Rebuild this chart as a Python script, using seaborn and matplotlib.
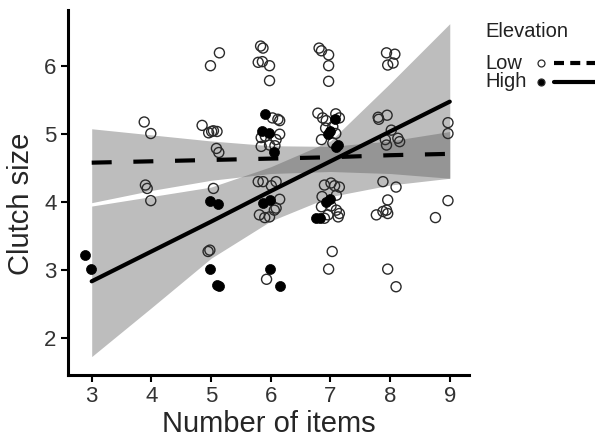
import numpy as np
import pandas as pd
import matplotlib
matplotlib.use('Agg')
import matplotlib.pyplot as plt
from matplotlib.lines import Line2D
import seaborn as sns

# Observed clutches, low elevation (open circles), x jittered around item count
low_x = [3.88, 3.99, 3.90, 3.93, 3.99,
         5.14, 4.99, 4.85, 4.96, 5.01, 5.04, 5.10, 5.09, 5.13, 5.04, 4.95, 4.98,
         5.83, 5.87, 5.79, 5.86, 5.98, 5.98, 6.03, 6.12, 6.15, 5.84, 5.91, 6.15,
         6.09, 5.84, 5.98, 6.07, 5.79, 5.87, 6.09, 6.01, 6.15, 6.09, 5.81, 5.90,
         5.98, 6.06, 5.93,
         6.81, 6.85, 6.97, 6.97, 6.97, 6.79, 6.87, 6.93, 7.09, 7.15, 6.85, 7.09,
         6.92, 7.04, 7.04, 6.90, 7.01, 7.07, 7.15, 6.86, 7.10, 6.85, 7.01, 7.10,
         7.13, 6.96, 6.90, 7.15, 7.03, 6.97,
         7.94, 8.08, 8.05, 7.96, 7.80, 7.81, 7.95, 8.02, 8.13, 8.16, 7.94, 7.92,
         7.88, 8.10, 7.96, 7.94, 7.88, 7.77, 7.96, 7.96, 8.10,
         8.97, 8.97, 8.97, 8.76]
low_y = [5.18, 5.01, 4.25, 4.20, 4.02,
         6.20, 6.01, 5.13, 5.02, 5.04, 5.05, 5.04, 4.79, 4.73, 4.20, 3.27, 3.29,
         6.30, 6.27, 6.06, 6.07, 6.01, 5.79, 5.24, 5.22, 5.20, 4.95, 4.97, 5.00,
         4.92, 4.82, 4.84, 4.83, 4.30, 4.30, 4.30, 4.24, 4.04, 3.91, 3.81, 3.77,
         3.78, 3.88, 2.86,
         6.27, 6.23, 6.17, 6.01, 5.78, 5.31, 5.24, 5.20, 5.30, 5.24, 4.92, 5.01,
         5.09, 5.11, 4.87, 4.25, 4.28, 4.24, 4.22, 4.08, 4.10, 3.93, 3.94, 3.88,
         3.78, 3.81, 3.76, 3.83, 3.27, 3.01,
         6.20, 6.18, 6.05, 6.02, 5.25, 5.22, 5.28, 5.06, 4.94, 4.89, 4.84, 4.92,
         4.30, 4.22, 4.03, 3.88, 3.86, 3.81, 3.83, 3.01, 2.75,
         5.17, 5.01, 4.02, 3.77]

# High elevation (filled circles)
high_x = [2.88, 2.99, 4.99, 5.12, 4.99, 5.10, 5.13,
          5.91, 5.86, 5.97, 6.05, 5.87, 5.98, 5.98, 6.15,
          7.07, 6.99, 6.96, 7.13, 7.10, 6.99, 6.93, 6.76, 6.82]
high_y = [3.22, 3.01, 4.02, 3.97, 3.01, 2.77, 2.76,
          5.30, 5.05, 5.02, 4.74, 3.98, 4.03, 3.01, 2.76,
          5.22, 5.04, 5.01, 4.84, 4.81, 4.05, 4.00, 3.77, 3.76]

# Model fits with confidence bands
fit_x = [3, 4, 5, 6, 7, 8, 9]
low_fit = [4.58, 4.60, 4.62, 4.64, 4.66, 4.69, 4.71]
low_lo = [3.99, 4.17, 4.32, 4.42, 4.45, 4.42, 4.35]
low_hi = [5.08, 4.99, 4.90, 4.83, 4.82, 4.90, 5.04]
high_fit = [2.83, 3.27, 3.71, 4.16, 4.60, 5.04, 5.48]
high_lo = [1.72, 2.44, 3.17, 3.72, 4.08, 4.25, 4.35]
high_hi = [3.94, 4.08, 4.22, 4.52, 4.90, 5.75, 6.63]

legend_title = 'Elevation'
legend_labels = ['Low', 'High']

low_df = pd.DataFrame({'items': low_x, 'clutch': low_y})
high_df = pd.DataFrame({'items': high_x, 'clutch': high_y})
fit_df = pd.DataFrame({'items': fit_x, 'low': low_fit, 'high': high_fit})

sns.set_style('white')
plt.rcParams['font.family'] = ['Liberation Sans', 'DejaVu Sans']

fig = plt.figure(figsize=(5.95, 4.4), dpi=100)
ax = fig.add_axes([0.114, 0.148, 0.674, 0.829])

band_col = '#5a5a5a'
ax.fill_between(fit_x, low_lo, low_hi, color=band_col, alpha=0.4, lw=0)
ax.fill_between(fit_x, high_lo, high_hi, color=band_col, alpha=0.4, lw=0)

sns.scatterplot(data=low_df, x='items', y='clutch', ax=ax, s=52,
                facecolor='none', edgecolor='#2a2a2a', linewidth=1.0)
sns.scatterplot(data=high_df, x='items', y='clutch', ax=ax, s=52,
                color='black', edgecolor='black', linewidth=0.5)

sns.lineplot(data=fit_df, x='items', y='low', ax=ax, color='black', lw=3,
             linestyle=(0, (4.8, 5.2)))
sns.lineplot(data=fit_df, x='items', y='high', ax=ax, color='black', lw=3)

ax.set_xlim(2.6, 9.32)
ax.set_ylim(1.45, 6.83)
ax.set_xticks([3, 4, 5, 6, 7, 8, 9])
ax.set_yticks([2, 3, 4, 5, 6])
ax.set_xlabel('Number of items', fontsize=21, labelpad=2)
ax.set_ylabel('Clutch size', fontsize=21)
ax.yaxis.set_label_coords(-0.083, 0.47)
ax.tick_params(labelsize=16, length=5, width=1.5, colors='black',
               labelcolor='#333333', direction='out', pad=3)
ax.tick_params(left=True, bottom=True)
for side in ['top', 'right']:
    ax.spines[side].set_visible(False)
for side in ['left', 'bottom']:
    ax.spines[side].set_linewidth(2.2)
    ax.spines[side].set_color('black')

# legend drawn by hand: left-aligned labels, then marker, then line
W, H = 595.0, 440.0
fig.text(485 / W, 1 - 37 / H, legend_title, fontsize=14.5, color='#222222',
         ha='left', va='baseline')
rows = [(legend_labels[0], 69, 63, 'white', (0, (2.4, 1.5))),
        (legend_labels[1], 87, 81.5, 'black', '-')]
for label, base, mid, face, style in rows:
    fig.text(485 / W, 1 - base / H, label, fontsize=14.5, color='#222222',
             ha='left', va='baseline')
    fig.add_artist(Line2D([541 / W], [1 - mid / H], marker='o', ls='none',
                          mfc=face, mec='#2a2a2a', ms=5, mew=0.9,
                          transform=fig.transFigure))
    fig.add_artist(Line2D([554 / W, 600 / W], [1 - mid / H, 1 - mid / H],
                          color='black', lw=3, ls=style,
                          transform=fig.transFigure))

fig.savefig('out.png', dpi=100)
